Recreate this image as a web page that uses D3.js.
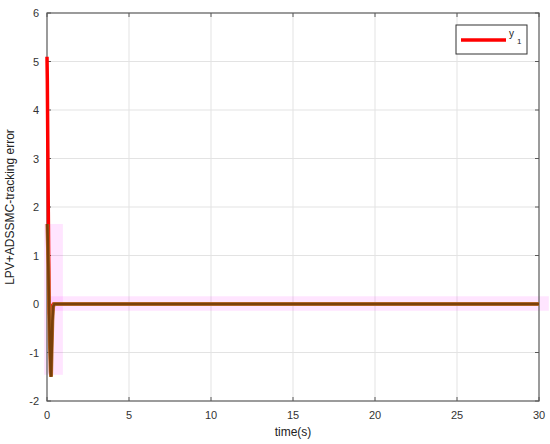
<!DOCTYPE html>
<html>
<head>
<meta charset="utf-8">
<style>
    body { margin: 0; background: #fff; }
    svg { font-family: Arial, 'Liberation Sans', sans-serif; }
    .grid line { stroke: #e3e3e3; stroke-width: 1; }
</style>
</head>
<body>
<svg width="550" height="444"></svg>

<script src="https://d3js.org/d3.v7.min.js"></script>
<script>
    // series
    let t1 = [0, 0.02, 0.05, 0.08, 0.1, 0.12, 0.15, 0.2, 0.25, 0.3, 0.4, 0.5, 1, 30];
    let y1 = [5.1, 4.6, 3.2, 1.9, 1.0, 0.3, -0.2, -0.3, -0.15, -0.05, 0, 0, 0, 0];

    let t2 = [0.02, 0.08, 0.12, 0.17, 0.22, 0.25, 0.29, 0.33, 0.38, 0.45, 1, 30];
    let y2 = [1.65, 0.8, 0, -0.8, -1.4, -1.5, -0.9, -0.35, -0.05, 0, 0, 0];

    // shaded zones (x range, y range)
    let bandX = [[-0.18, 0.97], [0, 30.6]];
    let bandY = [[1.65, -1.46], [0.16, -0.14]];

    let xTicks = [0, 5, 10, 15, 20, 25, 30];
    let yTicks = [-2, -1, 0, 1, 2, 3, 4, 5, 6];

    let svg = d3.select("svg");
    let mLeft = 47, mRight = 539, mTop = 13, mBottom = 401;

    let x = d3.scaleLinear().domain([0, 30]).range([mLeft, mRight]);
    let y = d3.scaleLinear().domain([-2, 6]).range([mBottom, mTop]);

    // grid
    svg.append("g").attr("class", "grid")
        .selectAll("line").data(xTicks.slice(1, -1)).join("line")
        .attr("x1", d => x(d)).attr("x2", d => x(d))
        .attr("y1", mTop).attr("y2", mBottom);
    svg.append("g").attr("class", "grid")
        .selectAll("line").data(yTicks.slice(1, -1)).join("line")
        .attr("x1", mLeft).attr("x2", mRight)
        .attr("y1", d => y(d)).attr("y2", d => y(d));

    // pink zones
    svg.selectAll(".band")
        .data(bandX.map((b, i) => ({ bx: b, by: bandY[i] })))
        .join("rect")
        .attr("class", "band")
        .attr("x", d => x(d.bx[0]))
        .attr("width", d => x(d.bx[1]) - x(d.bx[0]))
        .attr("y", d => y(d.by[0]))
        .attr("height", d => y(d.by[1]) - y(d.by[0]))
        .style("fill", "#ff00ff")
        .style("fill-opacity", 0.1);

    // axes box
    let axisColor = "#595959";
    svg.append("rect")
        .attr("x", mLeft).attr("y", mTop)
        .attr("width", mRight - mLeft).attr("height", mBottom - mTop)
        .style("fill", "none").style("stroke", axisColor).style("stroke-width", 1.2);

    // inward ticks on all four sides
    let tl = 4;
    xTicks.forEach(d => {
        svg.append("line").attr("x1", x(d)).attr("x2", x(d)).attr("y1", mBottom).attr("y2", mBottom - tl).style("stroke", axisColor);
        svg.append("line").attr("x1", x(d)).attr("x2", x(d)).attr("y1", mTop).attr("y2", mTop + tl).style("stroke", axisColor);
    });
    yTicks.forEach(d => {
        svg.append("line").attr("x1", mLeft).attr("x2", mLeft + tl).attr("y1", y(d)).attr("y2", y(d)).style("stroke", axisColor);
        svg.append("line").attr("x1", mRight).attr("x2", mRight - tl).attr("y1", y(d)).attr("y2", y(d)).style("stroke", axisColor);
    });

    // tick labels
    svg.selectAll(".xl").data(xTicks).join("text")
        .attr("class", "xl")
        .attr("x", d => x(d)).attr("y", mBottom + 18)
        .attr("text-anchor", "middle")
        .style("font-size", "11px").style("fill", "#333")
        .text(d => d);
    svg.selectAll(".yl").data(yTicks).join("text")
        .attr("class", "yl")
        .attr("x", mLeft - 8).attr("y", d => y(d) + 4)
        .attr("text-anchor", "end")
        .style("font-size", "11px").style("fill", "#333")
        .text(d => d);

    // lines
    let line = d3.line().x(d => x(d[0])).y(d => y(d[1]));

    svg.append("path")
        .attr("d", line(t1.map((t, i) => [t, y1[i]])))
        .style("fill", "none").style("stroke", "#ff0000").style("stroke-width", 3.5);

    svg.append("path")
        .attr("d", line(t2.map((t, i) => [t, y2[i]])))
        .style("fill", "none").style("stroke", "#c07030").style("stroke-width", 3.8);
    svg.append("path")
        .attr("d", line(t2.map((t, i) => [t, y2[i]])))
        .style("fill", "none").style("stroke", "#7a3f0a").style("stroke-width", 2.6);

    // legend
    svg.append("rect")
        .attr("x", 456).attr("y", 25).attr("width", 71).attr("height", 29)
        .style("fill", "#fff").style("stroke", "#333").style("stroke-width", 1);
    svg.append("line")
        .attr("x1", 461).attr("x2", 506).attr("y1", 40).attr("y2", 40)
        .style("stroke", "#ff0000").style("stroke-width", 3.5);
    let lt = svg.append("text").attr("x", 509).attr("y", 37)
        .style("font-size", "10px").style("fill", "#222");
    lt.append("tspan").text("y");
    lt.append("tspan").attr("dx", 3).attr("dy", 7).style("font-size", "8px").text("1");

    // axis titles
    svg.append("text")
        .attr("x", x(15)).attr("y", 436)
        .attr("text-anchor", "middle")
        .style("font-size", "12px").style("fill", "#222")
        .text("time(s)");
    svg.append("text")
        .attr("transform", "translate(14," + y(2) + ") rotate(-90)")
        .attr("text-anchor", "middle")
        .style("font-size", "12px").style("fill", "#222")
        .text("LPV+ADSSMC-tracking error");
</script>
</body>
</html>
